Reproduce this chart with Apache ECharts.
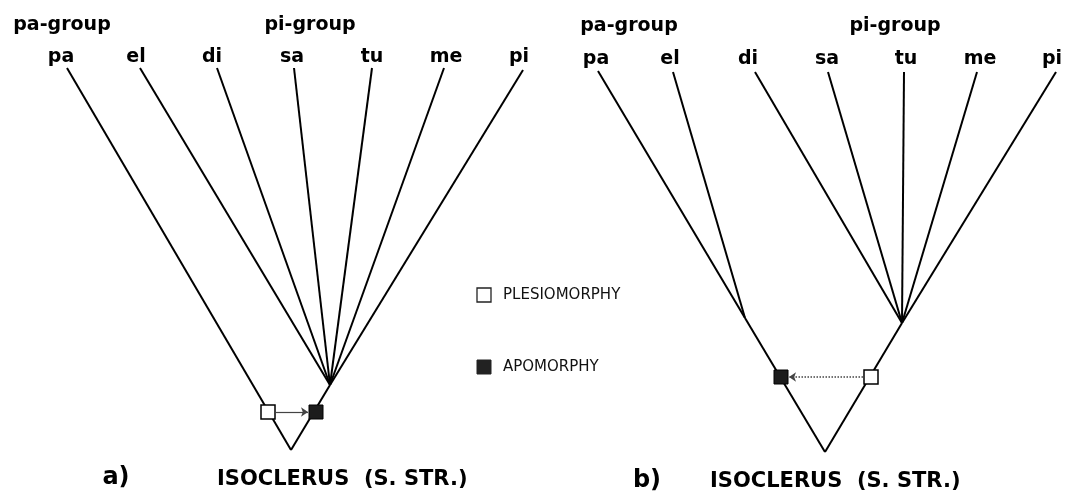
<!DOCTYPE html>
<html><head><meta charset="utf-8">
<script src="https://cdn.jsdelivr.net/npm/echarts@6/dist/echarts.min.js"></script>
<style>html,body{margin:0;padding:0;background:#fff}#c{width:1067px;height:493px}</style>
</head><body><div id="c"></div>
<script>
// ---- data ----
const taxa = ['pa','el','di','sa','tu','me','pi'];
const groupNames = ['pa-group','pi-group'];
const legendNames = ['PLESIOMORPHY','APOMORPHY'];
const panelNames = ['a)','b)'];
const titleText = 'ISOCLERUS  (S. STR.)';

// tree a (data-space coordinates of the cladogram)
const aTipX = [67,140,217,294,372,444,523];
const aTipY = [68,68,68,68,68,68,70];
const aLabelX = [61,136,212,292,372,446,519];
const aRoot = [291,450];
const aNode = [330,385];
const aGroupX = [62,310];
const aPlesio = [268,412];
const aApo = [316,412];

// tree b
const bTipX = [598,673,755,828,904,977,1056];
const bTipY = [71,72,72,72,72,72,72];
const bLabelX = [596,670,748,827,906,980,1052];
const bRoot = [825,452];
const bNodeL = [745,318];
const bNodeR = [902,323];
const bGroupX = [629,895];
const bPlesio = [871,377];
const bApo = [781,377];

// legend
const legendSquares = [[484,295],[484,367]];
const legendTextX = 503;

// ---- build ----
const tip = (xs, ys, i) => [xs[i], ys[i]];
const edges = [];
edges.push([aRoot, tip(aTipX,aTipY,0)]);
edges.push([aRoot, aNode]);
for (let i=1;i<7;i++) edges.push([aNode, tip(aTipX,aTipY,i)]);
edges.push([bRoot, bNodeL]);
edges.push([bNodeL, tip(bTipX,bTipY,0)]);
edges.push([bNodeL, tip(bTipX,bTipY,1)]);
edges.push([bRoot, bNodeR]);
for (let i=2;i<7;i++) edges.push([bNodeR, tip(bTipX,bTipY,i)]);

const arrowA = [[aPlesio[0]+8, aPlesio[1]], [aApo[0]-8, aApo[1]]];
const arrowB = [[bPlesio[0]-8, bPlesio[1]], [bApo[0]+8, bApo[1]]];

const textItems = [];
const FONT = '"DejaVu Sans", sans-serif';
function addText(x,y,text,opts){
  textItems.push({value:[x,y], label:Object.assign({show:true, formatter:text, position:'inside', align:'center', verticalAlign:'middle', color:'#000', opacity:1, textBorderWidth:0, fontFamily:FONT, fontWeight:'bold', fontSize:19}, opts||{})});
}
taxa.forEach((t,i)=>{ addText(aLabelX[i], 57, t); addText(bLabelX[i], 59, t); });
groupNames.forEach((g,i)=>{ addText(aGroupX[i], 25, g, {fontSize:19}); addText(bGroupX[i], 26, g, {fontSize:19}); });
addText(116, 478, panelNames[0], {fontSize:24});
addText(647, 481, panelNames[1], {fontSize:24});
addText(217, 480, titleText, {align:'left', fontSize:21});
addText(710, 482, titleText, {align:'left', fontSize:21});
addText(legendTextX, 295, legendNames[0], {align:'left', fontSize:15, fontWeight:'normal', color:'#111'});
addText(legendTextX, 367, legendNames[1], {align:'left', fontSize:15, fontWeight:'normal', color:'#111'});

const chart = echarts.init(document.getElementById('c'), null, {renderer:'canvas'});
chart.setOption({
  animation:false,
  backgroundColor:'#fff',
  grid:{left:0,right:0,top:0,bottom:0},
  xAxis:{type:'value',min:0,max:1067,show:false},
  yAxis:{type:'value',min:0,max:493,inverse:true,show:false},
  series:[
    {type:'lines', coordinateSystem:'cartesian2d', silent:true,
     lineStyle:{color:'#000', width:2, opacity:1},
     data:edges.map(e=>({coords:e}))},
    {type:'lines', coordinateSystem:'cartesian2d', silent:true,
     symbol:['none','arrow'], symbolSize:7,
     lineStyle:{color:'#444', width:1.2, opacity:1},
     data:[{coords:arrowA},{coords:arrowB, lineStyle:{type:'dotted', width:1.5, color:'#444'}}]},
    {type:'scatter', symbol:'rect', symbolSize:14, silent:true, z:5,
     itemStyle:{opacity:1},
     data:[
       {value:aPlesio, itemStyle:{color:'#fff', borderColor:'#000', borderWidth:1.5, opacity:1}},
       {value:aApo, itemStyle:{color:'#1c1c1c', borderColor:'#000', borderWidth:1, opacity:1}},
       {value:bPlesio, itemStyle:{color:'#fff', borderColor:'#000', borderWidth:1.5, opacity:1}},
       {value:bApo, itemStyle:{color:'#1c1c1c', borderColor:'#000', borderWidth:1, opacity:1}},
       {value:legendSquares[0], symbolSize:14, itemStyle:{color:'#fff', borderColor:'#222', borderWidth:1.3, opacity:1}},
       {value:legendSquares[1], symbolSize:14, itemStyle:{color:'#222', borderColor:'#222', borderWidth:1, opacity:1}}
     ]},
    {type:'scatter', symbolSize:0, silent:true, z:6, itemStyle:{opacity:1}, data:textItems}
  ]
});
</script></body></html>
